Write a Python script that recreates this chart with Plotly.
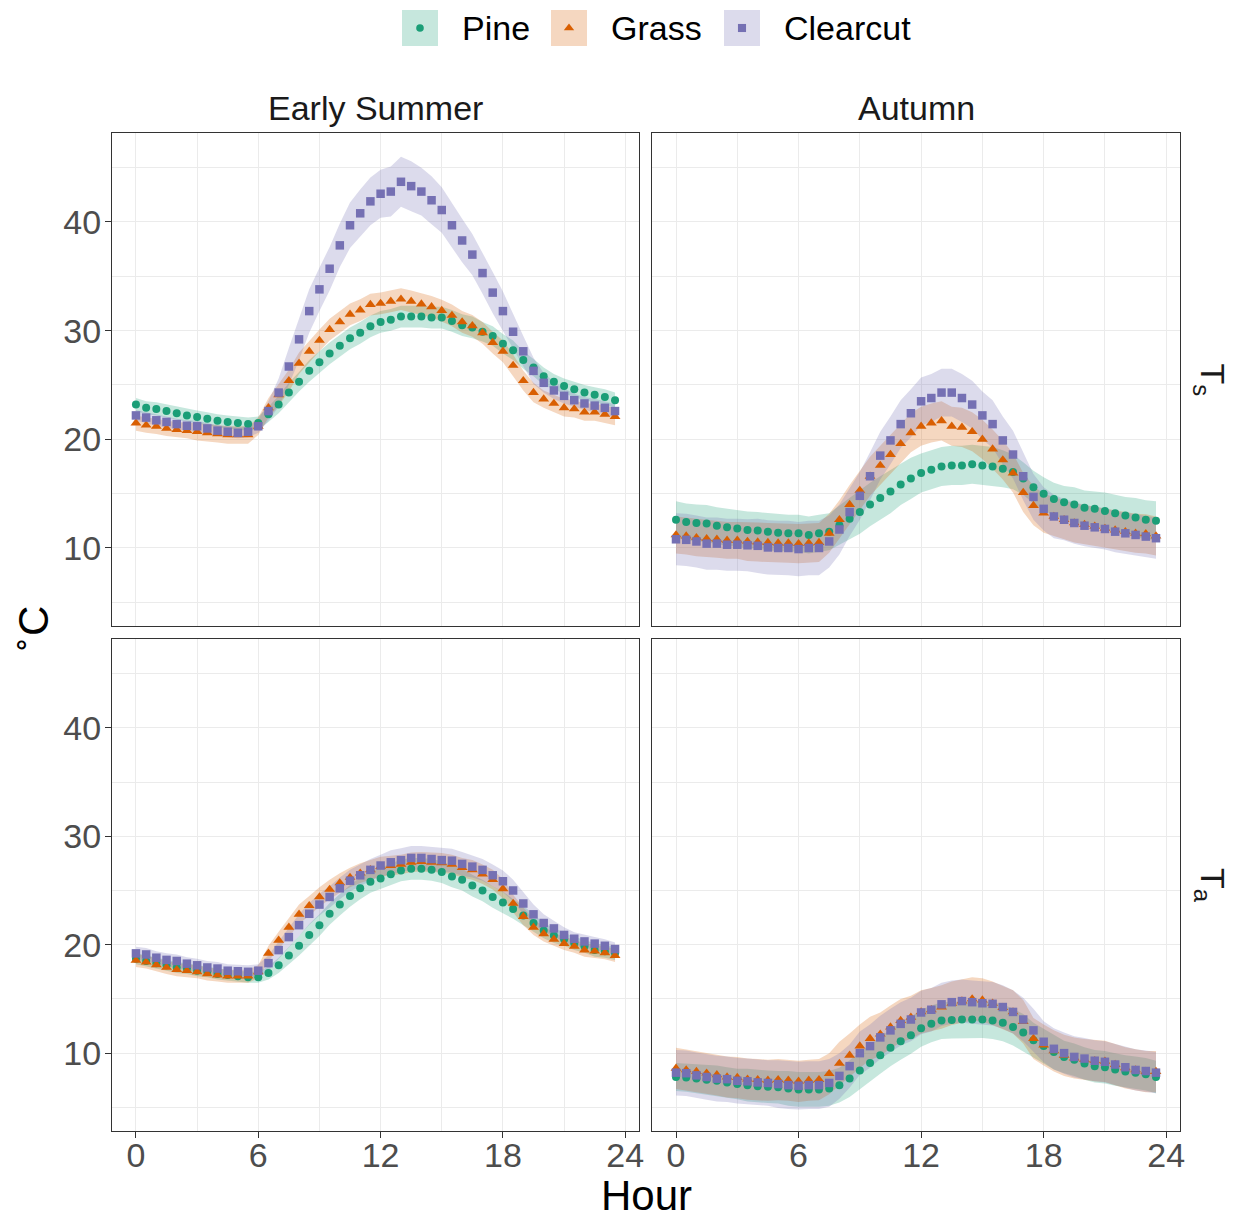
import plotly.graph_objects as go

# Half-hourly time of day
HOURS = [i * 0.5 for i in range(48)]

SITES = ["Pine", "Grass", "Clearcut"]
SEASONS = ["Early Summer", "Autumn"]
VARIABLES = ["T<sub>s</sub>", "T<sub>a</sub>"]

X_TICKS = [0, 6, 12, 18, 24]
Y_TICKS = [10, 20, 30, 40]

# ---- Early Summer, surface temperature (Ts): mean and spread ----
es_ts_pine = [23.2, 22.9, 22.8, 22.6, 22.4, 22.2, 22.05, 21.9, 21.7, 21.6,
              21.5, 21.4, 21.5, 22.3, 23.2, 24.3, 25.3, 26.3, 27.1, 27.9,
              28.6, 29.3, 29.8, 30.4, 30.8, 31.0, 31.3, 31.3, 31.3, 31.2,
              31.2, 30.9, 30.5, 30.3, 29.9, 29.5, 28.8, 28.2, 27.3, 26.6,
              25.8, 25.3, 24.9, 24.6, 24.3, 24.1, 23.9, 23.6]
es_ts_grass = [21.5, 21.3, 21.2, 21.0, 20.9, 20.8, 20.7, 20.6, 20.5, 20.4,
               20.4, 20.4, 21.2, 22.9, 24.1, 25.4, 27.0, 28.1, 29.1, 30.1,
               30.8, 31.5, 31.9, 32.4, 32.5, 32.7, 32.9, 32.7, 32.45, 32.2,
               31.85, 31.4, 30.8, 30.45, 29.8, 28.9, 28.1, 26.8, 25.4, 24.3,
               23.7, 23.3, 22.9, 22.8, 22.5, 22.5, 22.3, 22.1]
es_ts_clearcut = [22.2, 22.0, 21.75, 21.6, 21.4, 21.25, 21.2, 21.0, 20.8, 20.7,
                  20.6, 20.7, 21.2, 22.6, 24.3, 26.7, 29.2, 31.8, 33.8, 35.7,
                  37.85, 39.7, 40.8, 41.9, 42.6, 42.8, 43.7, 43.3, 42.8, 42.0,
                  41.1, 39.7, 38.3, 37.0, 35.3, 33.5, 31.8, 29.9, 28.1, 26.3,
                  25.2, 24.5, 24.0, 23.6, 23.3, 23.1, 22.9, 22.6]
es_ts_pine_sd = [0.6, 0.6, 0.6, 0.6, 0.6, 0.6, 0.6, 0.6, 0.6, 0.6,
                 0.6, 0.6, 0.6, 0.7, 0.8, 0.9, 0.9, 1.0, 1.0, 1.0,
                 1.0, 1.0, 1.0, 1.0, 1.0, 1.0, 1.0, 1.0, 1.0, 1.0,
                 1.0, 1.0, 1.0, 1.0, 0.9, 0.9, 0.9, 0.9, 0.8, 0.8,
                 0.8, 0.7, 0.7, 0.7, 0.7, 0.7, 0.7, 0.7]
es_ts_grass_sd = [0.7, 0.7, 0.7, 0.7, 0.7, 0.7, 0.8, 0.8, 0.8, 0.8,
                  0.8, 0.8, 0.8, 0.9, 1.0, 1.0, 1.0, 1.0, 1.0, 1.0,
                  1.0, 1.0, 1.0, 1.0, 1.0, 1.0, 1.0, 1.0, 1.0, 1.0,
                  1.0, 1.0, 1.0, 1.0, 1.0, 1.0, 1.0, 1.0, 0.9, 0.9,
                  0.8, 0.8, 0.8, 0.8, 0.8, 0.8, 0.8, 0.8]
es_ts_clearcut_sd = [0.5, 0.5, 0.5, 0.5, 0.5, 0.5, 0.5, 0.5, 0.5, 0.5,
                     0.5, 0.5, 0.6, 0.9, 1.3, 1.7, 1.9, 2.0, 2.0, 2.0,
                     2.0, 2.1, 2.2, 2.2, 2.2, 2.3, 2.3, 2.3, 2.2, 2.2,
                     2.1, 2.0, 2.0, 1.9, 1.9, 1.9, 1.8, 1.6, 1.4, 1.2,
                     0.9, 0.8, 0.7, 0.6, 0.6, 0.6, 0.6, 0.6]

# ---- Autumn, surface temperature (Ts) ----
au_ts_pine = [12.6, 12.4, 12.3, 12.25, 12.05, 11.9, 11.8, 11.65, 11.6, 11.5,
              11.4, 11.35, 11.35, 11.2, 11.35, 11.5, 12.1, 12.7, 13.3, 14.0,
              14.6, 15.2, 15.85, 16.4, 16.9, 17.2, 17.5, 17.6, 17.6, 17.7,
              17.6, 17.5, 17.3, 17.0, 16.4, 15.6, 15.0, 14.5, 14.2, 14.0,
              13.7, 13.6, 13.4, 13.2, 13.0, 12.8, 12.6, 12.5]
au_ts_grass = [11.2, 11.1, 10.95, 10.85, 10.8, 10.7, 10.7, 10.6, 10.55, 10.5,
               10.45, 10.45, 10.4, 10.45, 10.5, 11.35, 12.6, 14.0, 15.3, 16.6,
               17.6, 18.6, 19.6, 20.6, 21.2, 21.5, 21.7, 21.2, 21.1, 20.7,
               20.0, 19.1, 18.1, 16.9, 15.1, 13.9, 13.2, 12.9, 12.6, 12.3,
               12.15, 12.0, 11.8, 11.65, 11.5, 11.35, 11.3, 11.1]
au_ts_clearcut = [10.8, 10.75, 10.6, 10.4, 10.4, 10.3, 10.3, 10.25, 10.2, 10.05,
                  10.0, 10.0, 9.9, 10.0, 10.0, 10.6, 11.7, 13.3, 14.8, 16.6,
                  18.5, 19.9, 21.4, 22.4, 23.5, 23.8, 24.3, 24.3, 23.8, 23.2,
                  22.2, 21.4, 19.9, 18.6, 16.6, 14.7, 13.6, 12.9, 12.6, 12.3,
                  12.05, 11.9, 11.75, 11.5, 11.35, 11.2, 11.05, 10.9]
au_ts_pine_sd = [1.7, 1.7, 1.7, 1.7, 1.7, 1.7, 1.7, 1.7, 1.7, 1.7,
                 1.7, 1.7, 1.7, 1.7, 1.7, 1.7, 1.8, 1.9, 2.0, 2.0,
                 2.0, 2.0, 1.9, 1.9, 1.8, 1.8, 1.8, 1.8, 1.8, 1.8,
                 1.8, 1.8, 1.7, 1.6, 1.5, 1.5, 1.5, 1.5, 1.5, 1.6,
                 1.6, 1.6, 1.7, 1.7, 1.7, 1.8, 1.8, 1.8]
au_ts_grass_sd = [1.7, 1.7, 1.7, 1.7, 1.7, 1.7, 1.7, 1.8, 1.8, 1.8,
                  1.8, 1.8, 1.8, 1.8, 1.8, 1.8, 1.8, 1.8, 1.8, 1.8,
                  1.8, 1.8, 1.8, 1.8, 1.8, 1.8, 1.8, 1.8, 1.8, 1.8,
                  1.8, 1.8, 1.8, 1.8, 1.8, 1.8, 1.8, 1.8, 1.8, 1.8,
                  1.8, 1.8, 1.8, 1.8, 1.8, 1.8, 1.8, 1.8]
au_ts_clearcut_sd = [2.4, 2.4, 2.4, 2.4, 2.4, 2.4, 2.4, 2.4, 2.5, 2.5,
                     2.5, 2.5, 2.5, 2.5, 2.5, 2.4, 2.3, 2.2, 2.2, 2.2,
                     2.2, 2.2, 2.2, 2.2, 2.2, 2.2, 2.2, 2.2, 2.2, 2.2,
                     2.2, 2.2, 2.2, 2.2, 2.2, 2.1, 2.0, 2.0, 1.9, 1.9,
                     1.9, 1.9, 1.9, 1.9, 1.9, 1.9, 1.9, 1.9]

# ---- Early Summer, air temperature (Ta) ----
es_ta_pine = [18.7, 18.5, 18.3, 18.1, 17.9, 17.8, 17.6, 17.5, 17.3, 17.2,
              17.1, 17.0, 17.0, 17.4, 18.1, 19.0, 19.9, 20.9, 21.8, 22.85,
              23.7, 24.5, 25.2, 25.8, 26.1, 26.5, 26.85, 27.0, 27.0, 26.9,
              26.7, 26.3, 26.0, 25.45, 25.0, 24.4, 23.9, 23.3, 22.7, 22.0,
              21.3, 20.85, 20.5, 20.1, 19.85, 19.5, 19.4, 19.2]
es_ta_grass = [18.55, 18.4, 18.15, 17.9, 17.7, 17.6, 17.5, 17.3, 17.2, 17.1,
               17.1, 17.1, 17.5, 19.2, 20.4, 21.6, 22.8, 23.6, 24.4, 25.1,
               25.7, 26.2, 26.6, 26.9, 27.2, 27.3, 27.4, 27.6, 27.65, 27.6,
               27.55, 27.4, 27.1, 26.9, 26.5, 26.0, 25.15, 23.8, 22.6, 21.6,
               21.0, 20.5, 20.1, 19.85, 19.5, 19.4, 19.25, 19.0]
es_ta_clearcut = [19.2, 19.1, 18.8, 18.6, 18.5, 18.25, 18.1, 17.9, 17.8, 17.6,
                  17.55, 17.5, 17.6, 18.3, 19.5, 20.7, 21.8, 22.85, 23.7, 24.4,
                  25.2, 25.9, 26.4, 26.9, 27.3, 27.6, 27.8, 28.0, 28.0, 27.9,
                  27.8, 27.75, 27.45, 27.2, 26.9, 26.4, 25.85, 25.0, 23.8, 22.8,
                  22.0, 21.5, 20.9, 20.55, 20.3, 20.1, 19.9, 19.6]
es_ta_pine_sd = [0.5, 0.5, 0.5, 0.5, 0.5, 0.5, 0.5, 0.5, 0.5, 0.5,
                 0.5, 0.5, 0.5, 0.6, 0.7, 0.8, 0.9, 1.0, 1.0, 1.0,
                 1.0, 1.0, 1.0, 1.0, 1.0, 1.0, 1.0, 1.0, 1.0, 1.0,
                 1.0, 1.0, 1.0, 1.0, 1.0, 1.0, 1.0, 0.9, 0.9, 0.8,
                 0.7, 0.7, 0.6, 0.6, 0.6, 0.6, 0.6, 0.6]
es_ta_grass_sd = [0.6, 0.6, 0.6, 0.6, 0.6, 0.6, 0.6, 0.6, 0.6, 0.6,
                  0.6, 0.6, 0.6, 0.7, 0.8, 0.9, 0.9, 0.9, 0.9, 0.9,
                  0.9, 0.9, 0.9, 0.9, 0.9, 0.9, 0.9, 0.9, 0.9, 0.9,
                  0.9, 0.9, 0.9, 0.9, 0.9, 0.9, 0.9, 0.8, 0.8, 0.7,
                  0.7, 0.6, 0.6, 0.6, 0.6, 0.6, 0.6, 0.6]
es_ta_clearcut_sd = [0.6, 0.6, 0.6, 0.6, 0.6, 0.6, 0.6, 0.6, 0.6, 0.6,
                     0.6, 0.6, 0.6, 0.7, 0.8, 0.9, 1.0, 1.0, 1.0, 1.0,
                     1.0, 1.0, 1.0, 1.0, 1.0, 1.1, 1.1, 1.1, 1.1, 1.1,
                     1.1, 1.1, 1.1, 1.0, 1.0, 1.0, 1.0, 1.0, 1.0, 0.9,
                     0.8, 0.7, 0.7, 0.6, 0.6, 0.6, 0.6, 0.6]

# ---- Autumn, air temperature (Ta) ----
au_ta_pine = [7.8, 7.75, 7.65, 7.55, 7.45, 7.3, 7.15, 7.05, 6.95, 6.9,
              6.85, 6.75, 6.65, 6.65, 6.65, 6.75, 7.05, 7.65, 8.4, 9.1,
              9.8, 10.5, 11.1, 11.65, 12.3, 12.7, 13.0, 13.05, 13.1, 13.1,
              13.1, 13.0, 12.8, 12.4, 11.9, 11.2, 10.65, 10.1, 9.65, 9.4,
              9.05, 8.8, 8.7, 8.5, 8.3, 8.2, 8.05, 7.8]
au_ta_grass = [8.6, 8.45, 8.3, 8.15, 8.0, 7.8, 7.75, 7.6, 7.55, 7.5,
               7.55, 7.5, 7.4, 7.5, 7.55, 8.1, 9.05, 9.8, 10.65, 11.35,
               11.75, 12.4, 13.0, 13.3, 13.8, 14.0, 14.25, 14.6, 14.8, 15.0,
               14.9, 14.6, 14.2, 13.8, 12.9, 11.35, 10.75, 10.2, 9.8, 9.55,
               9.4, 9.3, 9.25, 8.95, 8.65, 8.45, 8.3, 8.3]
au_ta_clearcut = [8.2, 8.15, 7.95, 7.8, 7.65, 7.6, 7.45, 7.4, 7.3, 7.25,
                  7.15, 7.05, 7.0, 7.05, 7.05, 7.25, 7.9, 8.8, 10.0, 10.65,
                  11.45, 12.1, 12.7, 13.1, 13.75, 14.0, 14.5, 14.7, 14.8, 14.7,
                  14.6, 14.55, 14.25, 13.8, 13.1, 12.1, 11.05, 10.4, 10.0, 9.65,
                  9.5, 9.3, 9.2, 8.95, 8.7, 8.45, 8.35, 8.2]
au_ta_pine_sd = [1.3, 1.3, 1.3, 1.4, 1.4, 1.4, 1.4, 1.5, 1.5, 1.5,
                 1.5, 1.6, 1.6, 1.6, 1.6, 1.6, 1.6, 1.7, 1.7, 1.7,
                 1.7, 1.7, 1.7, 1.7, 1.7, 1.7, 1.7, 1.7, 1.7, 1.7,
                 1.7, 1.7, 1.7, 1.7, 1.7, 1.6, 1.6, 1.6, 1.5, 1.5,
                 1.5, 1.5, 1.5, 1.5, 1.5, 1.5, 1.5, 1.5]
au_ta_grass_sd = [1.9, 1.9, 1.9, 1.9, 1.9, 1.9, 1.9, 1.9, 1.9, 1.9,
                  1.9, 1.9, 1.9, 1.9, 1.9, 1.9, 2.0, 2.0, 2.0, 2.0,
                  2.0, 2.0, 2.0, 2.0, 2.0, 2.0, 2.0, 2.0, 2.0, 2.0,
                  2.0, 2.0, 2.0, 2.0, 2.0, 1.9, 1.9, 1.9, 1.9, 1.9,
                  1.9, 1.9, 1.9, 1.9, 1.9, 1.9, 1.9, 1.9]
au_ta_clearcut_sd = [2.1, 2.1, 2.1, 2.1, 2.1, 2.1, 2.1, 2.1, 2.1, 2.1,
                     2.2, 2.2, 2.2, 2.2, 2.2, 2.2, 2.1, 2.0, 2.0, 2.0,
                     2.0, 2.0, 2.0, 2.0, 2.0, 2.0, 2.0, 2.0, 2.0, 2.0,
                     2.0, 2.0, 2.0, 2.0, 2.0, 2.0, 1.9, 1.9, 1.9, 1.9,
                     1.9, 1.9, 1.9, 1.9, 1.9, 1.9, 1.9, 1.9]

# panel (row, col) -> {site: (mean, spread)}
PANELS = {
    (0, 0): {"Pine": (es_ts_pine, es_ts_pine_sd),
             "Grass": (es_ts_grass, es_ts_grass_sd),
             "Clearcut": (es_ts_clearcut, es_ts_clearcut_sd)},
    (0, 1): {"Pine": (au_ts_pine, au_ts_pine_sd),
             "Grass": (au_ts_grass, au_ts_grass_sd),
             "Clearcut": (au_ts_clearcut, au_ts_clearcut_sd)},
    (1, 0): {"Pine": (es_ta_pine, es_ta_pine_sd),
             "Grass": (es_ta_grass, es_ta_grass_sd),
             "Clearcut": (es_ta_clearcut, es_ta_clearcut_sd)},
    (1, 1): {"Pine": (au_ta_pine, au_ta_pine_sd),
             "Grass": (au_ta_grass, au_ta_grass_sd),
             "Clearcut": (au_ta_clearcut, au_ta_clearcut_sd)},
}

# ---- styling ----
W, H = 1239, 1218
FONT = "Liberation Sans, Arial, Helvetica, sans-serif"
COLORS = {"Pine": (27, 158, 119), "Grass": (217, 95, 2), "Clearcut": (117, 112, 179)}
SYMBOLS = {"Pine": "circle", "Grass": "triangle-up", "Clearcut": "square"}
SIZES = {"Pine": 8, "Grass": 9.5, "Clearcut": 8.5}
RIBBON_ALPHA = 0.25

# panel pixel boxes (left, right) / (top, bottom)
COL_PX = [(112, 639), (652, 1180)]
ROW_PX = [(133, 626), (639, 1131)]
X_RANGE = [-1.175, 24.675]
Y_RANGE = [2.82, 48.19]


def rgb(c, a=1.0):
    return f"rgba({c[0]},{c[1]},{c[2]},{a})"


def axis_suffix(r, c):
    n = r * 2 + c + 1
    return "" if n == 1 else str(n)


fig = go.Figure()

for (r, c), series in PANELS.items():
    sfx = axis_suffix(r, c)
    xa, ya = "x" + sfx, "y" + sfx
    # ribbons first
    for site in SITES:
        mean, sd = series[site]
        upper = [m + s for m, s in zip(mean, sd)]
        lower = [m - s for m, s in zip(mean, sd)]
        fig.add_trace(go.Scatter(
            x=HOURS + HOURS[::-1], y=upper + lower[::-1],
            fill="toself", fillcolor=rgb(COLORS[site], RIBBON_ALPHA),
            line=dict(width=0), mode="lines", hoverinfo="skip",
            xaxis=xa, yaxis=ya, showlegend=False))
    # then points
    for site in SITES:
        mean, _ = series[site]
        fig.add_trace(go.Scatter(
            x=HOURS, y=mean, mode="markers", name=site,
            marker=dict(symbol=SYMBOLS[site], size=SIZES[site],
                        color=rgb(COLORS[site]), line=dict(width=0)),
            xaxis=xa, yaxis=ya, showlegend=False))

layout = dict(
    width=W, height=H, autosize=False,
    margin=dict(l=0, r=0, t=0, b=0, autoexpand=False),
    paper_bgcolor="white", plot_bgcolor="rgba(0,0,0,0)",
    font=dict(family=FONT, size=34, color="#4D4D4D"),
    showlegend=False,
)

for r in range(2):
    for c in range(2):
        sfx = axis_suffix(r, c)
        x0, x1 = COL_PX[c]
        y0, y1 = ROW_PX[r]
        show_x = r == 1
        show_y = c == 0
        layout["xaxis" + sfx] = dict(
            domain=[x0 / W, x1 / W], anchor="y" + sfx, range=X_RANGE,
            tickvals=X_TICKS, showticklabels=show_x, automargin=False,
            ticks="outside" if show_x else "", ticklen=6, tickwidth=1.1,
            ticklabelstandoff=-12,
            tickcolor="#333333", tickfont=dict(size=34, color="#4D4D4D"),
            showgrid=True, gridcolor="#EBEBEB", gridwidth=1.2,
            minor=dict(tickvals=[3, 9, 15, 21], showgrid=True,
                       gridcolor="#EBEBEB", gridwidth=0.6),
            showline=True, mirror=True, linecolor="#333333", linewidth=1.1,
            zeroline=False, fixedrange=True)
        layout["yaxis" + sfx] = dict(
            domain=[1 - y1 / H, 1 - y0 / H], anchor="x" + sfx, range=Y_RANGE,
            tickvals=Y_TICKS, showticklabels=show_y, automargin=False,
            ticks="outside" if show_y else "", ticklen=6, tickwidth=1.1,
            ticklabelstandoff=-3,
            tickcolor="#333333", tickfont=dict(size=34, color="#4D4D4D"),
            showgrid=True, gridcolor="#EBEBEB", gridwidth=1.2,
            minor=dict(tickvals=[5, 15, 25, 35, 45], showgrid=True,
                       gridcolor="#EBEBEB", gridwidth=0.6),
            showline=True, mirror=True, linecolor="#333333", linewidth=1.1,
            zeroline=False, fixedrange=True)

# full-canvas pixel axis for the legend keys
layout["xaxis5"] = dict(domain=[0, 1], range=[0, W], visible=False, automargin=False,
                        anchor="y5", fixedrange=True, showgrid=False)
layout["yaxis5"] = dict(domain=[0, 1], range=[H, 0], visible=False, automargin=False,
                        anchor="x5", fixedrange=True, showgrid=False)

annotations = []
shapes = []

# strip labels
for c, season in enumerate(SEASONS):
    x0, x1 = COL_PX[c]
    annotations.append(dict(
        text=season, x=(x0 + x1) / 2 / W, y=1 - 108 / H, xref="paper", yref="paper",
        showarrow=False, xanchor="center", yanchor="middle",
        font=dict(size=34, color="#1A1A1A")))
for r, var in enumerate(VARIABLES):
    y0, y1 = ROW_PX[r]
    annotations.append(dict(
        text=var, x=1210 / W, y=1 - (y0 + y1) / 2 / H, xref="paper", yref="paper",
        showarrow=False, xanchor="center", yanchor="middle", textangle=90,
        font=dict(size=34, color="#1A1A1A")))

# axis titles
annotations.append(dict(
    text="Hour", x=(COL_PX[0][0] + COL_PX[1][1]) / 2 / W, y=1 - 1195 / H,
    xref="paper", yref="paper", showarrow=False, xanchor="center", yanchor="middle",
    font=dict(size=42, color="black")))
annotations.append(dict(
    text="<sup>∘</sup>C", x=30 / W, y=1 - 630 / H,
    xref="paper", yref="paper", showarrow=False, xanchor="center", yanchor="middle",
    textangle=-90, font=dict(size=42, color="black")))

# legend: key boxes, key markers, labels
LEGEND_KEY_X = [420, 569, 742]
LEGEND_Y = 28
KEY = 36
for site, kx in zip(SITES, LEGEND_KEY_X):
    shapes.append(dict(
        type="rect", xref="paper", yref="paper",
        x0=(kx - KEY / 2) / W, x1=(kx + KEY / 2) / W,
        y0=1 - (LEGEND_Y + KEY / 2) / H, y1=1 - (LEGEND_Y - KEY / 2) / H,
        fillcolor=rgb(COLORS[site], RIBBON_ALPHA), line=dict(width=0), layer="below"))
    fig.add_trace(go.Scatter(
        x=[kx], y=[LEGEND_Y], mode="markers", xaxis="x5", yaxis="y5",
        marker=dict(symbol=SYMBOLS[site], size=SIZES[site] * 0.95,
                    color=rgb(COLORS[site]), line=dict(width=0)),
        hoverinfo="skip", showlegend=False))
    annotations.append(dict(
        text=site, x=(kx + KEY / 2 + 22) / W, y=1 - LEGEND_Y / H,
        xref="paper", yref="paper", showarrow=False, xanchor="left", yanchor="middle",
        font=dict(size=34, color="black")))

layout["annotations"] = annotations
layout["shapes"] = shapes
fig.update_layout(**layout)

fig.write_html("out.html", config={"displayModeBar": False, "responsive": False})
